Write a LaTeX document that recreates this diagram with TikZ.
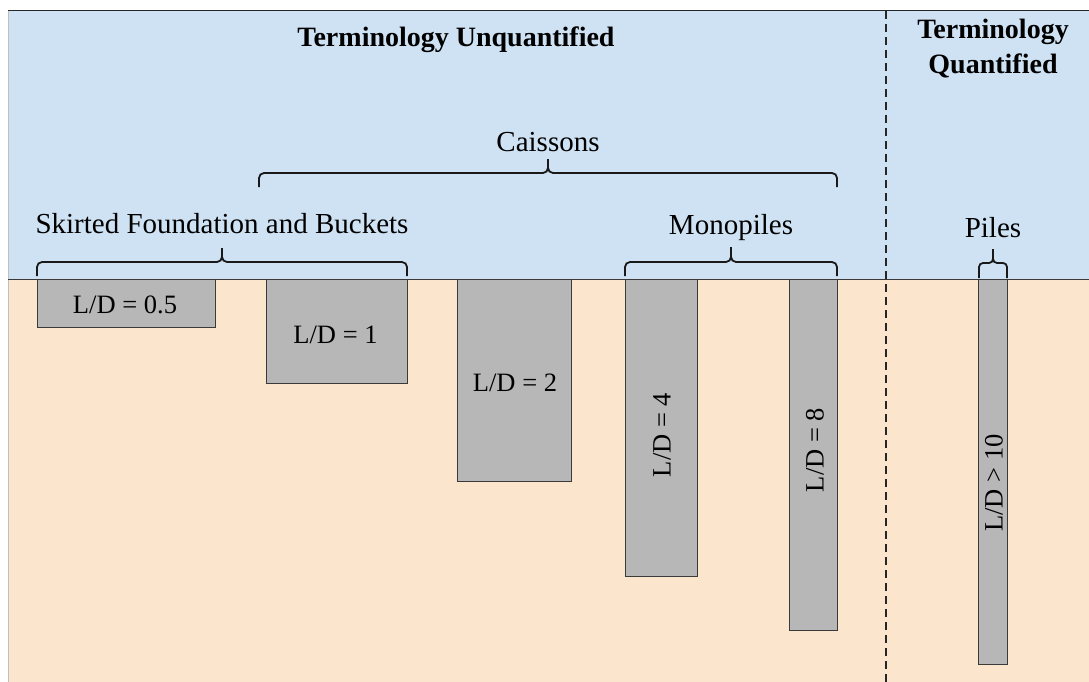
\documentclass[tikz,border=0pt]{standalone}
\usepackage{fontspec}
\setmainfont{Liberation Serif}
\definecolor{skyblue}{HTML}{CFE2F3}
\definecolor{soilorange}{HTML}{FCE5CD}
\definecolor{pilegray}{HTML}{B7B7B7}
\definecolor{edgegray}{HTML}{3A3A3A}
\begin{document}
\begin{tikzpicture}[x=1pt,y=-1pt,
  pilebox/.style={draw=edgegray, fill=pilegray, line width=1.2pt, inner sep=0pt, anchor=north west},
  pilelabel/.style={inner sep=0pt, font=\fontsize{26.5}{30}\selectfont},
  catlabel/.style={inner sep=0pt, anchor=base, font=\fontsize{29}{34}\selectfont},
  titlelabel/.style={inner sep=0pt, font=\fontsize{28}{35}\selectfont\bfseries, align=center},
  bracepath/.style={draw=black!90, line width=1.8pt, rounded corners=5pt}]
\useasboundingbox (0,0) rectangle (1089,682);
% background
\fill[skyblue] (8,11) rectangle (1089,279);
\fill[soilorange] (8,279) rectangle (1089,682);
\draw[black!25, line width=0.8pt] (8,11) -- (8,682);
\draw[black!85, line width=1.5pt] (8,10.5) -- (1089,10.5);
\draw[edgegray, line width=1pt] (8,279) -- (1089,279);
% divider
\draw[black!85, line width=2pt, dash pattern=on 8pt off 5pt] (886,11) -- (886,682);
% titles
\node[titlelabel, anchor=base] (tu) at (456,47) {Terminology Unquantified};
\node[titlelabel, anchor=north] (tq) at (993,18.8) {Terminology\\Quantified};
% category labels
\node[catlabel] (skirt) at (222,233) {Skirted Foundation and Buckets};
\node[catlabel] (cais) at (548,151) {Caissons};
\node[catlabel] (mono) at (731,234) {Monopiles};
\node[catlabel] (piles) at (993,237) {Piles};
% braces
\draw[bracepath] (37,276) -- (37,262) -- (222,262) -- (222,248);
\draw[bracepath] (407,276) -- (407,262) -- (222,262) -- (222,248);
\draw[bracepath] (259,187) -- (259,173) -- (548,173) -- (548,159);
\draw[bracepath] (837,187) -- (837,173) -- (548,173) -- (548,159);
\draw[bracepath] (625,276) -- (625,262) -- (731,262) -- (731,247);
\draw[bracepath] (837,276) -- (837,262) -- (731,262) -- (731,247);
\draw[bracepath, rounded corners=4pt] (979,278) -- (979,263) -- (993,263) -- (993,249);
\draw[bracepath, rounded corners=4pt] (1007,278) -- (1007,263) -- (993,263) -- (993,249);
% foundations
\node[pilebox, minimum width=178pt, minimum height=48pt] (b1) at (37,279) {};
\node[pilebox, minimum width=141pt, minimum height=104pt] (b2) at (266,279) {};
\node[pilebox, minimum width=114pt, minimum height=202pt] (b3) at (457,279) {};
\node[pilebox, minimum width=72pt, minimum height=297pt] (b4) at (625,279) {};
\node[pilebox, minimum width=48pt, minimum height=351pt] (b5) at (789,279) {};
\node[pilebox, minimum width=29pt, minimum height=385pt] (b6) at (978,279) {};
% foundation labels
\node[pilelabel, anchor=base] (l1) at (125,313) {L/D = 0.5};
\node[pilelabel, anchor=base] (l2) at (335.5,343) {L/D = 1};
\node[pilelabel, anchor=base] (l3) at (515,391) {L/D = 2};
\node[pilelabel, rotate=90] (l4) at (662,435) {L/D = 4};
\node[pilelabel, rotate=90] (l5) at (815,450) {L/D = 8};
\node[pilelabel, rotate=90] (l6) at (994,483) {L/D > 10};
\end{tikzpicture}
\end{document}
